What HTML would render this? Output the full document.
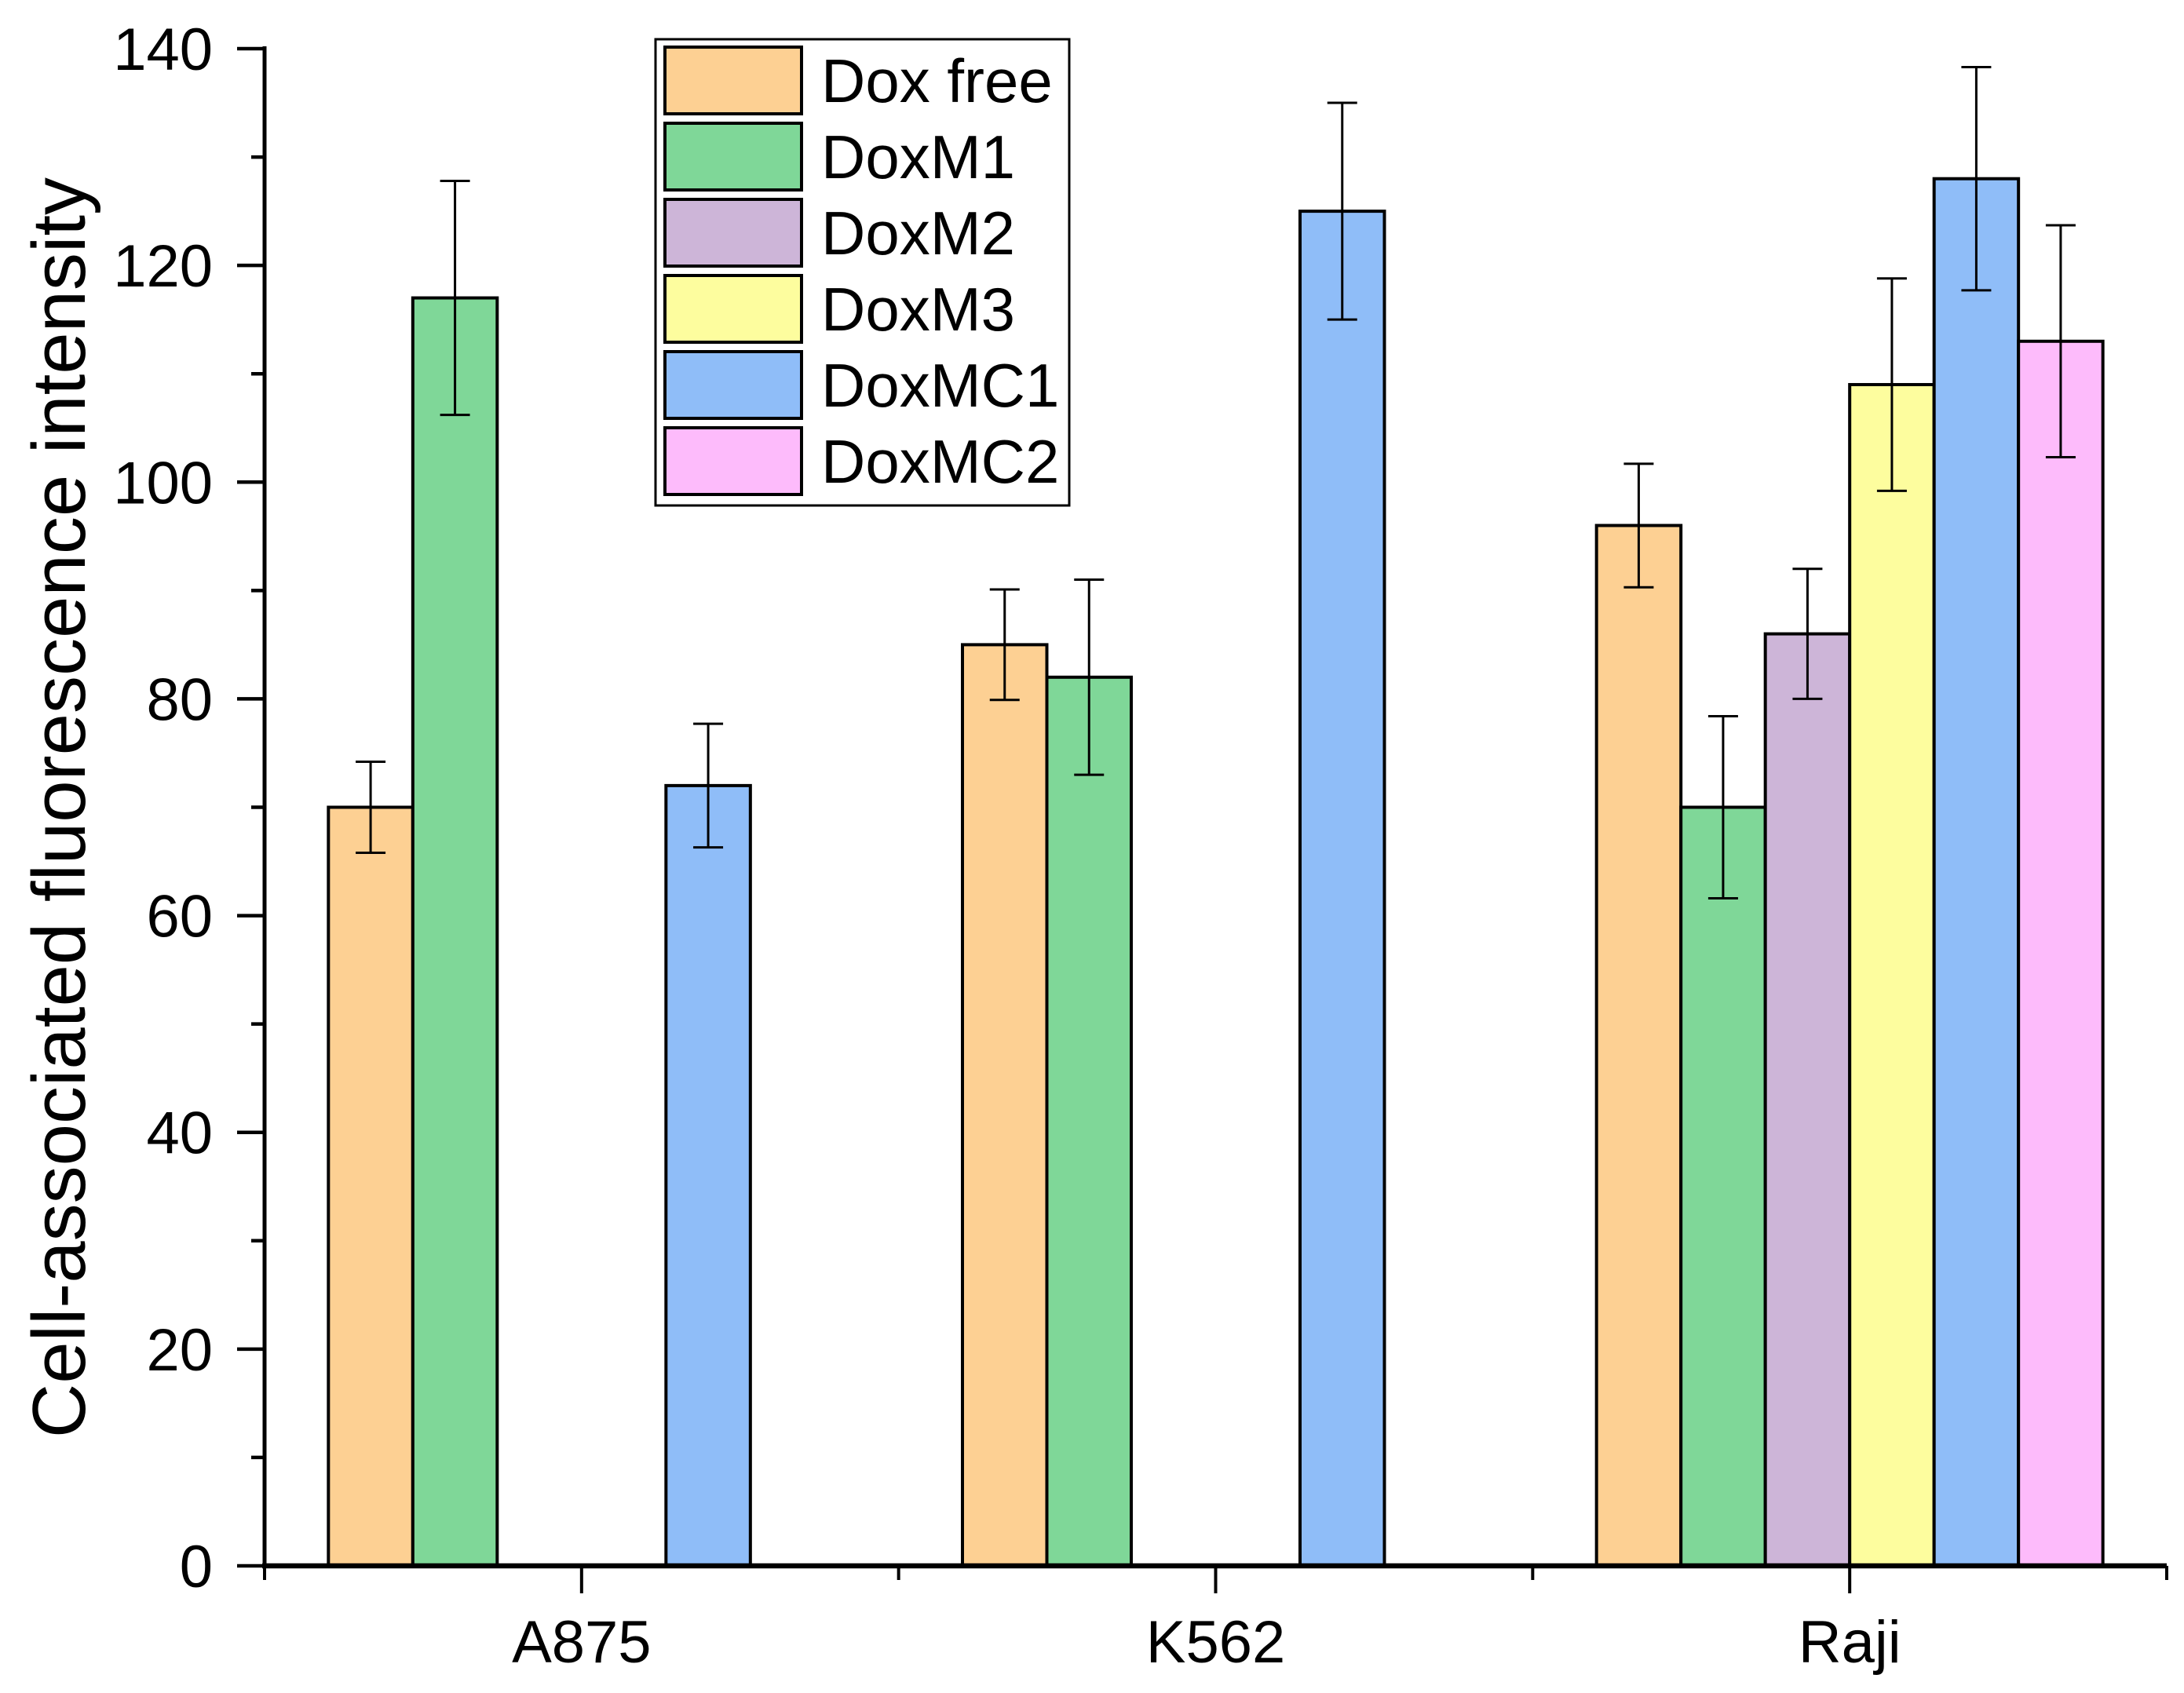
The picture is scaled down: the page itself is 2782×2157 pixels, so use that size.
<!DOCTYPE html>
<html><head><meta charset="utf-8"><style>
html,body{margin:0;padding:0;background:#fff}
svg{display:block}
text{font-family:"Liberation Sans",Arial,sans-serif;fill:#000}
</style></head><body>
<svg id="chart" width="2782" height="2157" viewBox="0 0 2782 2157" xmlns="http://www.w3.org/2000/svg">
<g id="plot"></g>
<g id="axes"></g>
<g id="legend"></g>
<text transform="translate(108,1029) rotate(-90)" text-anchor="middle" font-size="96">Cell-associated fluorescence intensity</text>
</svg>
<script>
const categories = ["A875","K562","Raji"];
const seriesNames = ["Dox free","DoxM1","DoxM2","DoxM3","DoxMC1","DoxMC2"];
const seriesColors = ["#fdd093","#7fd798","#cdb5d8","#fdfd9e","#8fbdf8","#fdbbfb"];
const doxFree = [70,85,96];
const doxM1 = [117,82,70];
const doxM2 = [null,null,86];
const doxM3 = [null,null,109];
const doxMC1 = [72,125,128];
const doxMC2 = [null,null,113];
const errDoxFree = [4.2,5.1,5.7];
const errDoxM1 = [10.8,9,8.4];
const errDoxM2 = [null,null,6];
const errDoxM3 = [null,null,9.8];
const errDoxMC1 = [5.7,10,10.3];
const errDoxMC2 = [null,null,10.7];
const yTicks = [0,20,40,60,80,100,120,140];

const series = [doxFree,doxM1,doxM2,doxM3,doxMC1,doxMC2];
const errs = [errDoxFree,errDoxM1,errDoxM2,errDoxM3,errDoxMC1,errDoxMC2];
const NS="http://www.w3.org/2000/svg";
const X0=337, X1=2760, Y0=1995, Y140=62, YMAX=140;
const groupW=(X1-X0)/categories.length;
const barW=107.5;
function yScale(v){return Y0-(v/YMAX)*(Y0-Y140);}
function xCenter(i){return X0+groupW*(i+0.5);}
function barX(i,s){return xCenter(i)-barW*seriesNames.length/2+s*barW;}
function mk(tag,attrs,parent){const e=document.createElementNS(NS,tag);for(const k in attrs)e.setAttribute(k,attrs[k]);parent.appendChild(e);return e;}
const plot=document.getElementById('plot'), axes=document.getElementById('axes'), legend=document.getElementById('legend');

series.forEach((vals,s)=>{
  vals.forEach((v,i)=>{
    if(v==null) return;
    const x=barX(i,s), y=yScale(v);
    const r=mk('rect',{x:x,y:y,width:barW,height:Y0-y,fill:seriesColors[s],stroke:'#000','stroke-width':4},plot);
    
    
  });
});
series.forEach((vals,s)=>{
  vals.forEach((v,i)=>{
    if(v==null) return;
    const e=errs[s][i]; const cx=barX(i,s)+barW/2;
    const g=mk('g',{stroke:'#000','stroke-width':3},plot);
    
    
    const yt=yScale(v+e), yb=yScale(v-e);
    mk('line',{x1:cx,x2:cx,y1:yt,y2:yb},g);
    mk('line',{x1:cx-19,x2:cx+19,y1:yt,y2:yt},g);
    mk('line',{x1:cx-19,x2:cx+19,y1:yb,y2:yb},g);
  });
});
// y axis
const ya=mk('line',{x1:X0,x2:X0,y1:Y140-3,y2:Y0+3,stroke:'#000','stroke-width':5},axes);


yTicks.forEach((t,k)=>{
  const y=yScale(t);
  mk('line',{x1:X0-35,x2:X0,y1:y,y2:y,stroke:'#000','stroke-width':4.5},axes);
  if(k<yTicks.length-1){const ym=yScale(t+10);mk('line',{x1:X0-17,x2:X0,y1:ym,y2:ym,stroke:'#000','stroke-width':4.5},axes);}
  const tx=mk('text',{x:271,y:y+27,'text-anchor':'end','font-size':76},axes);
  tx.textContent=t;
  
  
});
// x axis
const xa=mk('line',{x1:X0-3,x2:X1,y1:Y0,y2:Y0,stroke:'#000','stroke-width':6.5},axes);


for(let i=0;i<=categories.length;i++){const x=X0+groupW*i;mk('line',{x1:x,x2:x,y1:Y0,y2:Y0+18,stroke:'#000','stroke-width':4},axes);}
categories.forEach((c,i)=>{
  const x=xCenter(i);
  mk('line',{x1:x,x2:x,y1:Y0,y2:Y0+35,stroke:'#000','stroke-width':4},axes);
  const tx=mk('text',{x:x,y:2118,'text-anchor':'middle','font-size':76},axes);
  tx.textContent=c;
  
  
});
// legend
const box=mk('rect',{x:835,y:50,width:527,height:594,fill:'#fff',stroke:'#000','stroke-width':3},legend);


seriesNames.forEach((n,s)=>{
  const y=60+s*97;
  const g=mk('g',{},legend);
  
  
  mk('rect',{x:847,y:y,width:174,height:85,fill:seriesColors[s],stroke:'#000','stroke-width':4},g);
  const t=mk('text',{x:1046,y:y+70,'font-size':78},g);
  t.textContent=n;
});
</script>
</body></html>
